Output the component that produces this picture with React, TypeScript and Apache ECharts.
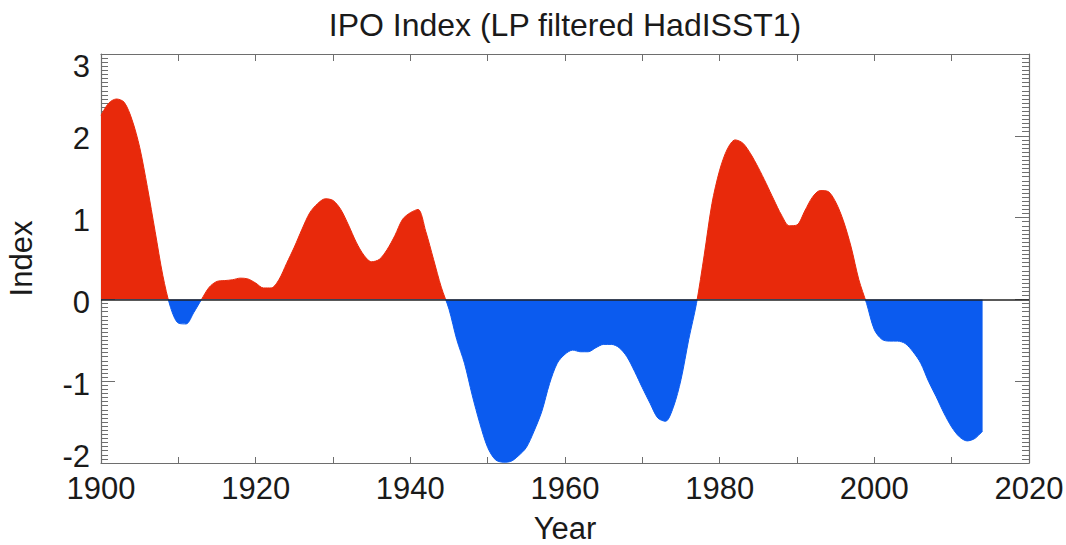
import React, { useEffect, useRef } from "react";
import * as echarts from "echarts";

const years = [
  1900, 1901, 1902, 1903, 1904, 1905, 1906, 1907, 1908, 1909,
  1910, 1911, 1912, 1913, 1914, 1915, 1916, 1917, 1918, 1919,
  1920, 1921, 1922, 1923, 1924, 1925, 1926, 1927, 1928, 1929,
  1930, 1931, 1932, 1933, 1934, 1935, 1936, 1937, 1938, 1939,
  1940, 1941, 1942, 1943, 1944, 1945, 1946, 1947, 1948, 1949,
  1950, 1951, 1952, 1953, 1954, 1955, 1956, 1957, 1958, 1959,
  1960, 1961, 1962, 1963, 1964, 1965, 1966, 1967, 1968, 1969,
  1970, 1971, 1972, 1973, 1974, 1975, 1976, 1977, 1978, 1979,
  1980, 1981, 1982, 1983, 1984, 1985, 1986, 1987, 1988, 1989,
  1990, 1991, 1992, 1993, 1994, 1995, 1996, 1997, 1998, 1999,
  2000, 2001, 2002, 2003, 2004, 2005, 2006, 2007, 2008, 2009,
  2010, 2011, 2012, 2013, 2014,
];

const ipo = [
  2.25, 2.4, 2.45, 2.41, 2.2, 1.86, 1.37, 0.83, 0.29, -0.1,
  -0.29, -0.3, -0.16, 0.0, 0.15, 0.22, 0.23, 0.24, 0.26, 0.25,
  0.2, 0.14, 0.14, 0.24, 0.44, 0.64, 0.86, 1.06, 1.17, 1.23,
  1.21, 1.1, 0.91, 0.7, 0.54, 0.46, 0.49, 0.61, 0.78, 0.98,
  1.06, 1.1, 0.83, 0.49, 0.15, -0.12, -0.49, -0.78, -1.17, -1.52,
  -1.81, -1.96, -1.99, -1.98, -1.91, -1.81, -1.61, -1.37, -1.03, -0.78,
  -0.67, -0.62, -0.64, -0.64, -0.59, -0.55, -0.55, -0.59, -0.7, -0.88,
  -1.08, -1.27, -1.45, -1.49, -1.32, -0.98, -0.49, -0.05, 0.54, 1.17,
  1.58, 1.84, 1.95, 1.91, 1.78, 1.61, 1.42, 1.22, 1.03, 0.9,
  0.91, 1.08, 1.25, 1.33, 1.32, 1.19, 0.96, 0.64, 0.24, -0.05,
  -0.37, -0.49, -0.51, -0.51, -0.54, -0.64, -0.78, -1.0, -1.19, -1.39,
  -1.56, -1.68, -1.73, -1.7, -1.61,
];

const X_MIN = 1900;
const X_MAX = 2020;
const X_STEP = 20;
const Y_MIN = -2;
const Y_MAX = 3;
const Y_STEP = 1;

const FONT = "'Liberation Sans', Arial, Helvetica, sans-serif";
const TEXT = "#1a1a1a";
const AXIS = "#6e6e6e";
const RED = "#e8290b";
const BLUE = "#0b5bef";

export default function App() {
  const ref = useRef<HTMLDivElement>(null);
  useEffect(() => {
    if (!ref.current) return;
    const chart = echarts.init(ref.current, undefined, { renderer: "svg" });
    const data = years.map((y, i) => [y, ipo[i]]);
    const labelRich = {
      t: { fontSize: 31, lineHeight: 31, color: TEXT, fontFamily: FONT, padding: [24, 0, 0, 0] },
      b: { fontSize: 31, lineHeight: 31, color: TEXT, fontFamily: FONT, padding: [0, 0, 14, 0] },
      m: { fontSize: 31, lineHeight: 31, color: TEXT, fontFamily: FONT, padding: [6, 0, 0, 0] },
    };
    const yAx = (position: string, withLabels: boolean) => ({
      type: "value",
      position,
      min: Y_MIN,
      max: Y_MAX,
      interval: Y_STEP,
      splitLine: { show: false },
      axisLine: { show: true, onZero: false, lineStyle: { color: AXIS, width: 1.2 } },
      axisTick: { show: true, inside: true, length: 14, lineStyle: { color: AXIS, width: 1 } },
      minorTick: { show: true, splitNumber: 20, length: 7, lineStyle: { color: AXIS, width: 1 } },
      axisLabel: withLabels
        ? {
            show: true,
            margin: 11,
            formatter: (v: number) => {
              const key = v === Y_MAX ? "t" : v === Y_MIN ? "b" : "m";
              return `{${key}|${v}}`;
            },
            rich: labelRich,
          }
        : { show: false },
    });
    chart.setOption({
      animation: false,
      backgroundColor: "#ffffff",
      title: {
        text: "IPO Index (LP filtered HadISST1)",
        left: 560,
        textAlign: "center",
        top: 4,
        textStyle: { fontSize: 32, fontWeight: "normal", color: TEXT, fontFamily: FONT },
      },
      grid: { left: 101, right: 37, top: 54, bottom: 82, containLabel: false, outerBoundsMode: "none" },
      xAxis: [
        {
          type: "value",
          position: "bottom",
          min: X_MIN,
          max: X_MAX,
          interval: X_STEP,
          name: "Year",
          nameLocation: "middle",
          nameGap: 50,
          nameTextStyle: { fontSize: 31, lineHeight: 30, color: TEXT, fontFamily: FONT },
          splitLine: { show: false },
          axisLine: { show: true, onZero: false, lineStyle: { color: AXIS, width: 1.2 } },
          axisTick: { show: true, inside: true, length: 6, lineStyle: { color: AXIS } },
          minorTick: { show: true, splitNumber: 2, length: 6, lineStyle: { color: AXIS } },
          axisLabel: {
            fontSize: 31,
            lineHeight: 31,
            color: TEXT,
            fontFamily: FONT,
            margin: 10,
            formatter: (v: number) => String(v),
          },
        },
        {
          type: "value",
          position: "top",
          min: X_MIN,
          max: X_MAX,
          interval: X_STEP,
          splitLine: { show: false },
          axisLine: { show: true, onZero: false, lineStyle: { color: AXIS, width: 1.2 } },
          axisTick: { show: true, inside: true, length: 7, lineStyle: { color: AXIS } },
          minorTick: { show: true, splitNumber: 2, length: 7, lineStyle: { color: AXIS } },
          axisLabel: { show: false },
        },
      ],
      yAxis: [
        {
          ...yAx("left", true),
          name: "Index",
          nameLocation: "middle",
          nameGap: 64,
          nameTextStyle: { fontSize: 31, color: TEXT, fontFamily: FONT },
        },
        yAx("right", false),
      ],
      visualMap: {
        show: false,
        type: "piecewise",
        dimension: 1,
        seriesIndex: 0,
        pieces: [
          { gte: -10, lt: 0, color: BLUE },
          { gte: 0, lte: 10, color: RED },
        ],
        outOfRange: { color: BLUE },
      },
      series: [
        {
          type: "line",
          data,
          smooth: 0.3,
          clip: true,
          showSymbol: false,
          symbol: "none",
          lineStyle: { width: 1 },
          areaStyle: { opacity: 1, origin: 0 },
          markLine: {
            silent: true,
            symbol: "none",
            label: { show: false },
            lineStyle: { color: "#222", width: 1.5, type: "solid" },
            data: [{ yAxis: 0 }],
          },
        },
      ],
    });
    return () => chart.dispose();
  }, []);
  return (
    <div
      ref={ref}
      style={{ position: "fixed", left: 0, top: 0, width: 1066, height: 545, background: "#fff" }}
    />
  );
}
